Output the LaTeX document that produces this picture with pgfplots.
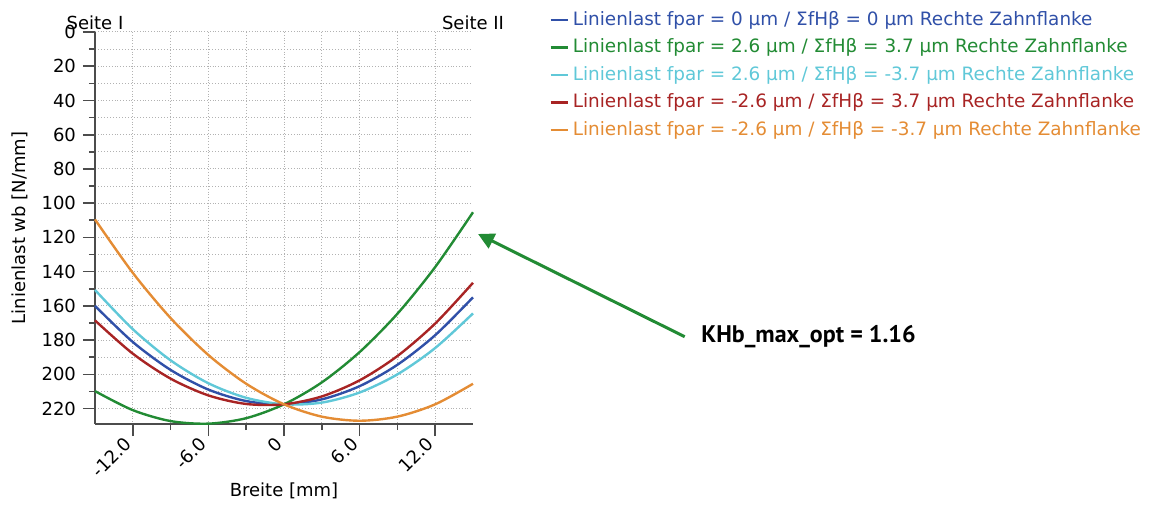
\documentclass[border=0pt]{standalone}
\usepackage{fontspec}
\setmainfont{DejaVu Sans}
\newfontfamily\annfont{PT Sans}
\usepackage{pgfplots}
\pgfplotsset{compat=1.18}
\usetikzlibrary{arrows.meta}

\definecolor{cblue}{RGB}{48,80,168}
\definecolor{cgreen}{RGB}{34,139,52}
\definecolor{ccyan}{RGB}{96,200,216}
\definecolor{cred}{RGB}{168,36,36}
\definecolor{corange}{RGB}{228,140,52}

\begin{document}
\begin{tikzpicture}
\begin{axis}[
    scale only axis,
    width=189pt, height=196pt,
    xmin=-15, xmax=15,
    ymin=0, ymax=229,
    y dir=reverse,
    axis x line*=bottom,
    axis y line*=left,
    axis line style={-, black!70, line width=0.8pt},
    xtick={-12,-6,0,6,12},
    xticklabels={-12.0,-6.0,0,6.0,12.0},
    minor x tick num=1,
    ytick={0,20,...,220},
    minor y tick num=1,
    tick align=outside,
    major tick length=6pt,
    minor tick length=3pt,
    tick style={black!70, line width=0.8pt},
    grid=both,
    grid style={densely dotted, black!30, line width=0.5pt},
    minor grid style={densely dotted, black!30, line width=0.5pt},
    /pgf/number format/assume math mode=true,
    ticklabel style={font=\fontsize{9}{10}\selectfont},
    x tick label style={rotate=45, anchor=east},
    xlabel={Breite [mm]},
    xlabel style={yshift=6pt},
    ylabel={Linienlast wb [N/mm]},
    label style={font=\fontsize{9}{10}\selectfont},
    clip=false,
    legend cell align=left,
    legend style={at={(1.185,1.074)}, anchor=north west, draw=none, fill=none,
        font=\fontsize{9.2}{10}\selectfont, row sep=1.2pt},
    legend image code/.code={\draw[#1] (0cm,0cm) -- (0.3cm,0cm);},
    every axis plot/.append style={line width=1.2pt, smooth},
]
\addplot[cblue] coordinates {
(-15,160)(-12,181.1)(-9,197.4)(-6,208.9)(-3,215.6)(0,217.5)
(3,214.6)(6,206.9)(9,194.4)(12,177.1)(15,155)};
\addlegendentry{\color{cblue}Linienlast fpar = 0 µm / ΣfHβ = 0 µm Rechte Zahnflanke}
\addplot[cgreen] coordinates {
(-15,209.8)(-12,220.9)(-9,227.3)(-6,228.8)(-3,225.6)(0,217.5)
(3,204.7)(6,187)(9,164.6)(12,137.3)(15,105.3)};
\addlegendentry{\color{cgreen}Linienlast fpar = 2.6 µm / ΣfHβ = 3.7 µm Rechte Zahnflanke}
\addplot[ccyan] coordinates {
(-15,150.7)(-12,173.6)(-9,191.8)(-6,205.2)(-3,213.7)(0,217.5)
(3,216.5)(6,210.6)(9,200.0)(12,184.6)(15,164.4)};
\addlegendentry{\color{ccyan}Linienlast fpar = 2.6 µm / ΣfHβ = -3.7 µm Rechte Zahnflanke}
\addplot[cred] coordinates {
(-15,168.5)(-12,187.9)(-9,202.5)(-6,212.3)(-3,217.3)(0,217.5)
(3,212.9)(6,203.5)(9,189.3)(12,170.3)(15,146.5)};
\addlegendentry{\color{cred}Linienlast fpar = -2.6 µm / ΣfHβ = 3.7 µm Rechte Zahnflanke}
\addplot[corange] coordinates {
(-15,109.5)(-12,140.7)(-9,167.1)(-6,188.7)(-3,205.5)(0,217.5)
(3,224.7)(6,227.1)(9,224.7)(12,217.5)(15,205.5)};
\addlegendentry{\color{corange}Linienlast fpar = -2.6 µm / ΣfHβ = -3.7 µm Rechte Zahnflanke}

\node[anchor=south, font=\fontsize{9}{10}\selectfont, inner sep=1pt] at (rel axis cs:0,1) {Seite I};
\node[anchor=south, font=\fontsize{9}{10}\selectfont, inner sep=1pt] at (rel axis cs:1,1) {Seite II};
\draw[cgreen, line width=1.5pt, -{Triangle[length=8pt,width=8pt]}] (axis cs:31.8,178) -- (axis cs:15.4,118);
\node[anchor=west, font=\annfont\bfseries\fontsize{12}{14}\selectfont, inner sep=0pt] at (axis cs:33.1,178) {KHb\_max\_opt = 1.16};
\coordinate (bl) at (rel axis cs:0,0);
\coordinate (tl) at (rel axis cs:0,1);
\end{axis}
\path ([shift={(-47.5pt,-47pt)}]bl) rectangle ([shift={(532pt,16pt)}]tl);
\end{tikzpicture}
\end{document}
